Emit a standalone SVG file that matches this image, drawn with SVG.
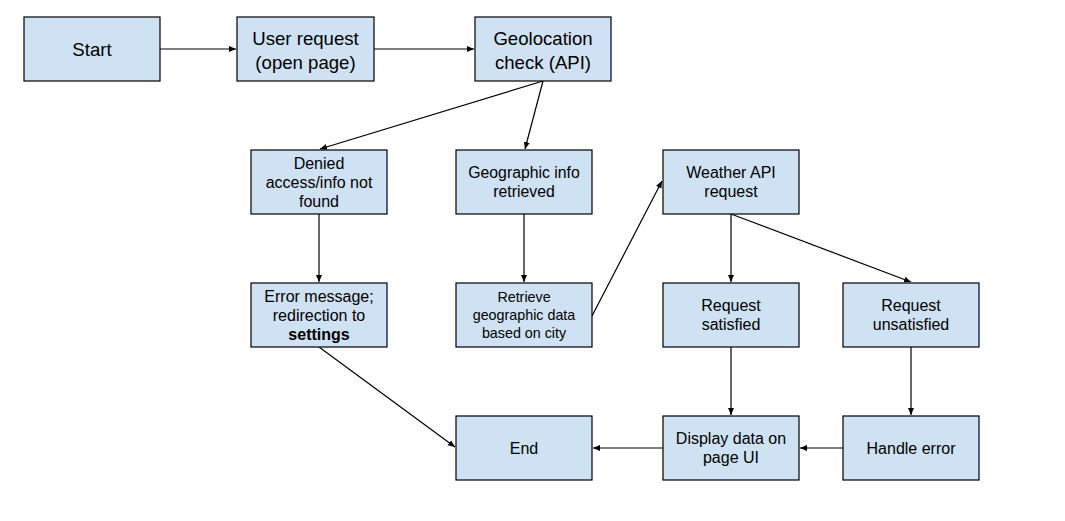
<svg xmlns="http://www.w3.org/2000/svg" width="1065" height="521" viewBox="0 0 1065 521">
<style>
.box{fill:#cfe2f3;stroke:#000;stroke-width:1.2}
.t{font-family:"Liberation Sans",Arial,sans-serif;fill:#000;text-anchor:middle}
.big{font-size:18.6px}
.m{font-size:16px}
.s{font-size:15.8px}
.c{fill:none;stroke:#000;stroke-width:1.2}
</style>
<defs>
<marker id="ah" markerUnits="userSpaceOnUse" markerWidth="8" markerHeight="8" viewBox="0 0 8 8" refX="7" refY="4" orient="auto">
<path d="M0,1 L7,4 L0,7 Z" fill="#000"/>
</marker>
</defs>
<rect width="1065" height="521" fill="#fff"/>
<g id="connectors">
<line class="c" x1="160" y1="49" x2="236" y2="49" marker-end="url(#ah)"/>
<line class="c" x1="374" y1="49" x2="474" y2="49" marker-end="url(#ah)"/>
<line class="c" x1="543" y1="81" x2="320" y2="149" marker-end="url(#ah)"/>
<line class="c" x1="543" y1="81" x2="525" y2="149" marker-end="url(#ah)"/>
<line class="c" x1="319" y1="214" x2="319" y2="282" marker-end="url(#ah)"/>
<line class="c" x1="524" y1="214" x2="524" y2="282" marker-end="url(#ah)"/>
<line class="c" x1="592" y1="316" x2="662" y2="181" marker-end="url(#ah)"/>
<line class="c" x1="731" y1="214" x2="731" y2="282" marker-end="url(#ah)"/>
<line class="c" x1="731" y1="214" x2="911" y2="282" marker-end="url(#ah)"/>
<line class="c" x1="319" y1="347" x2="455" y2="447" marker-end="url(#ah)"/>
<line class="c" x1="731" y1="347" x2="731" y2="415" marker-end="url(#ah)"/>
<line class="c" x1="911" y1="347" x2="911" y2="415" marker-end="url(#ah)"/>
<line class="c" x1="843" y1="448" x2="800" y2="448" marker-end="url(#ah)"/>
<line class="c" x1="663" y1="448" x2="593" y2="448" marker-end="url(#ah)"/>
</g>
<g id="start"><rect class="box" x="24" y="17" width="136" height="64"/><text class="t big" x="92" y="56">Start</text></g>
<g id="user-request"><rect class="box" x="237" y="17" width="137" height="64"/><text class="t big" x="305.5" y="45">User request</text><text class="t big" x="305.5" y="69">(open page)</text></g>
<g id="geolocation"><rect class="box" x="475" y="17" width="136" height="64"/><text class="t big" x="543" y="45">Geolocation</text><text class="t big" x="543" y="69">check (API)</text></g>
<g id="denied"><rect class="box" x="251" y="150" width="136" height="64"/><text class="t m" x="319" y="169">Denied</text><text class="t m" x="319" y="188">access/info not</text><text class="t m" x="319" y="207">found</text></g>
<g id="geo-info"><rect class="box" x="456" y="150" width="136" height="64"/><text class="t s" x="524" y="178">Geographic info</text><text class="t s" x="524" y="197">retrieved</text></g>
<g id="weather"><rect class="box" x="663" y="150" width="136" height="64"/><text class="t m" x="731" y="178">Weather API</text><text class="t m" x="731" y="197">request</text></g>
<g id="error-msg"><rect class="box" x="251" y="283" width="136" height="64"/><text class="t m" x="319" y="302">Error message;</text><text class="t m" x="319" y="321">redirection to</text><text class="t m" x="319" y="340" font-weight="bold">settings</text></g>
<g id="retrieve"><rect class="box" x="456" y="283" width="136" height="64"/><text class="t" font-size="14.3" x="524" y="302">Retrieve</text><text class="t" font-size="14.3" x="524" y="320">geographic data</text><text class="t" font-size="14.3" x="524" y="338">based on city</text></g>
<g id="satisfied"><rect class="box" x="663" y="283" width="136" height="64"/><text class="t m" x="731" y="311">Request</text><text class="t m" x="731" y="330">satisfied</text></g>
<g id="unsatisfied"><rect class="box" x="843" y="283" width="136" height="64"/><text class="t m" x="911" y="311">Request</text><text class="t m" x="911" y="330">unsatisfied</text></g>
<g id="end"><rect class="box" x="456" y="416" width="136" height="64"/><text class="t m" x="524" y="454">End</text></g>
<g id="display"><rect class="box" x="663" y="416" width="136" height="64"/><text class="t m" x="731" y="444">Display data on</text><text class="t m" x="731" y="463">page UI</text></g>
<g id="handle-error"><rect class="box" x="843" y="416" width="136" height="64"/><text class="t m" x="911" y="454">Handle error</text></g>
</svg>
